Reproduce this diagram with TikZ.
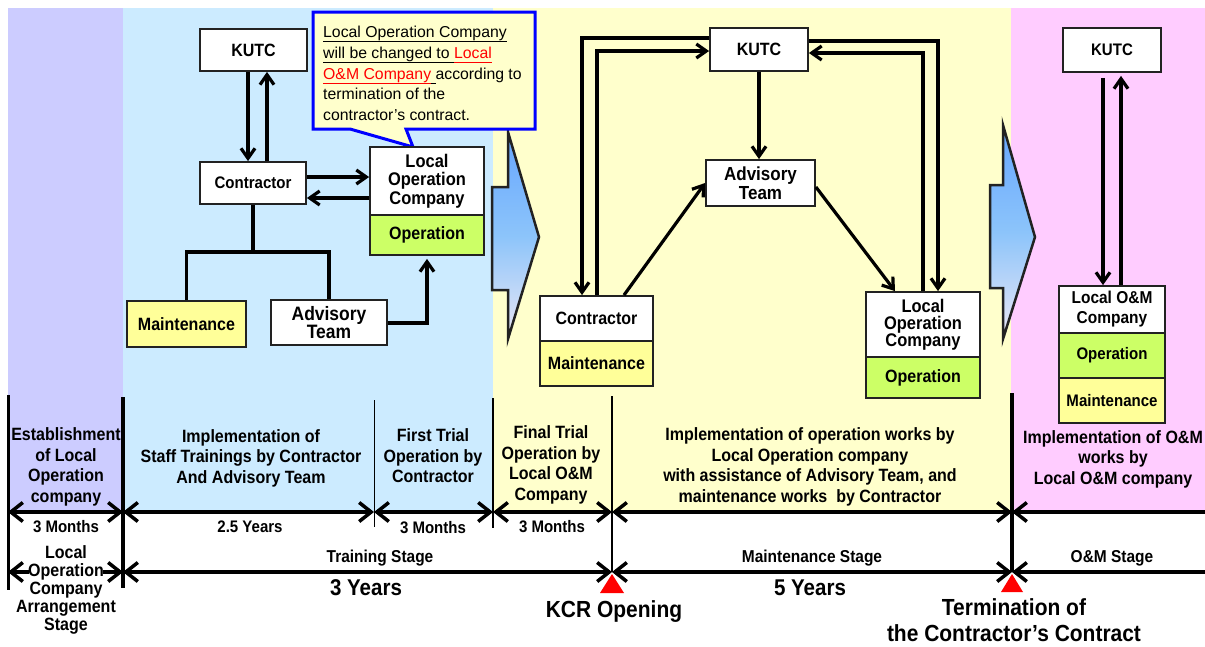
\documentclass[tikz,border=0pt]{standalone}
\usepackage{fontspec}
\setmainfont[FakeStretch=0.9]{Liberation Sans}
\newfontfamily\plainfont{Liberation Sans}
\usetikzlibrary{arrows.meta}
\definecolor{lav}{HTML}{CCCCFF}
\definecolor{lblue}{HTML}{CCEBFF}
\definecolor{lyel}{HTML}{FFFFCC}
\definecolor{lpink}{HTML}{FFCCFF}
\definecolor{bgreen}{HTML}{CCFF66}
\definecolor{byel}{HTML}{FFFF99}
\definecolor{arrA}{HTML}{66A6FF}
\definecolor{arrB}{HTML}{8CC4FA}
\definecolor{arrC}{HTML}{ECE8F6}
\definecolor{bord}{HTML}{222222}
\definecolor{cblue}{HTML}{0000FF}
\newcommand\uln[1]{\underline{#1\vphantom{y}}}
\begin{document}
\begin{tikzpicture}[x=1pt,y=-1pt,
  box/.style={draw=bord, line width=1.8pt, inner sep=0pt, align=center, font=\bfseries\fontsize{17.8}{19}\selectfont},
  wbox/.style={box, fill=white},
  ybox/.style={box, fill=byel},
  gbox/.style={box, fill=bgreen},
  darr/.style={line width=3.2pt, -{Straight Barb[length=10pt,width=14pt]}},
  dline/.style={line width=3.2pt},
  tarr/.style={line width=3.5pt, {Straight Barb[length=12pt,width=19pt]}-{Straight Barb[length=12pt,width=19pt]}},
  larr/.style={line width=3.5pt, {Straight Barb[length=12pt,width=19pt]}-},
  ttext/.style={align=center, font=\bfseries\fontsize{17.8}{20.5}\selectfont, inner sep=0pt},
  dur/.style={font=\bfseries\fontsize{16.7}{18}\selectfont, inner sep=0pt},
  stg/.style={font=\bfseries\fontsize{17.2}{18}\selectfont, inner sep=0pt},
  big/.style={align=center, font=\bfseries\fontsize{23.3}{26}\selectfont, inner sep=0pt},
  ctext/.style={anchor=base west, inner sep=0pt, font=\plainfont\fontsize{15.8}{20}\selectfont},
  bigarrow/.style={draw=bord, line width=2.5pt, top color=arrA, bottom color=arrC, middle color=arrB, line join=miter}
]
\useasboundingbox (0,0) rectangle (1205,646);
% bands
\fill[lav] (8,8) rectangle (123,511);
\fill[lblue] (123,8) rectangle (492.5,511);
\fill[lyel] (492.5,8) rectangle (1011,511);
\fill[lpink] (1011,8) rectangle (1205,511);
% big arrows
\path[bigarrow] (508,132) -- (539,237) -- (508,339) -- (508,290) -- (492,290) -- (492,187) -- (508,187) -- cycle;
\path[bigarrow] (1003,125) -- (1035,237) -- (1003,339) -- (1003,288) -- (990,288) -- (990,185) -- (1003,185) -- cycle;
% callout
\draw[cblue, line width=3pt, fill=lyel, line join=miter] (313,12) -- (535,12) -- (535,129) -- (406,129) -- (413,147) -- (350,129) -- (313,129) -- cycle;
\node[ctext] (ct1) at (323,37) {\uln{Local Operation Company}};
\node[ctext] (ct2) at (323,58) {\uln{will be changed to }\textcolor{red}{\uln{Local}}};
\node[ctext] (ct3) at (323,79) {\textcolor{red}{\uln{O\&M Company}}\uln{\ }according to};
\node[ctext] (ct4) at (323,99) {termination of the};
\node[ctext] (ct5) at (323,120) {contractor’s contract.};
% section 1
\node[wbox, minimum width=107pt, minimum height=42pt] (kutc1) at (253.5,50) {KUTC};
\node[wbox, minimum width=106pt, minimum height=42pt, font=\bfseries\fontsize{16.7}{18}\selectfont] (con1) at (253,183) {Contractor};
\node[wbox, minimum width=114pt, minimum height=68pt, font=\bfseries\fontsize{18.3}{18.5}\selectfont] (loc1) at (427,181) {Local\\Operation\\Company};
\node[gbox, minimum width=114pt, minimum height=40pt] (op1) at (427,235) {Operation};
\node[ybox, minimum width=119pt, minimum height=46pt] (mnt1) at (186.5,324) {Maintenance};
\node[wbox, minimum width=116pt, minimum height=45pt, font=\bfseries\fontsize{19.4}{17}\selectfont] (adv1) at (329,322.5) {Advisory\\Team};
\draw[darr] (kutc1.south -| 248,0) -- (con1.north -| 248,0);
\draw[darr] (con1.north -| 267,0) -- (kutc1.south -| 267,0);
\draw[darr] (con1.east |- 0,177) -- (loc1.west |- 0,177);
\draw[darr] (loc1.west |- 0,198) -- (con1.east |- 0,198);
\coordinate (tj) at (con1.south |- 0,252);
\draw[dline] (con1.south) -- (tj);
\draw[dline] (mnt1.north) |- (tj) -| (adv1.north);
\draw[darr, shorten >=3pt] (adv1.east |- 0,323) -| (op1.south);
% section 2
\node[wbox, minimum width=98pt, minimum height=43pt] (kutc2) at (759,49.5) {KUTC};
\node[wbox, minimum width=109pt, minimum height=46pt, font=\bfseries\fontsize{18.9}{19}\selectfont] (adv2) at (760.5,183) {Advisory\\Team};
\node[wbox, minimum width=113pt, minimum height=45pt] (con2) at (596.5,318.5) {Contractor};
\node[ybox, minimum width=113pt, minimum height=45pt] (mnt2) at (596.5,363.5) {Maintenance};
\node[wbox, minimum width=114pt, minimum height=65pt, font=\bfseries\fontsize{18.3}{17}\selectfont] (loc2) at (923,324.5) {Local\\Operation\\Company};
\node[gbox, minimum width=114pt, minimum height=41pt] (op2) at (923,377.5) {Operation};
\draw[darr] (kutc2.west |- 0,38) -| (con2.north -| 582,0);
\draw[darr] (con2.north -| 597,0) |- (kutc2.west |- 0,51);
\draw[darr] (kutc2.east |- 0,41) -| (loc2.north -| 938,0);
\draw[darr] (loc2.north -| 923,0) |- (kutc2.east |- 0,53);
\draw[darr] (kutc2.south) -- (kutc2.south |- adv2.north);
\draw[darr] (con2.north -| 624,0) -- (adv2.west |- 0,183);
\draw[darr] (adv2.east |- 0,187) -- (loc2.north -| 895,0);
% section 3
\node[wbox, minimum width=98pt, minimum height=44pt, font=\bfseries\fontsize{16.7}{18}\selectfont] (kutc3) at (1112,50) {KUTC};
\node[wbox, minimum width=106pt, minimum height=47pt, font=\bfseries\fontsize{17.2}{20}\selectfont] (lom) at (1112,309.5) {Local O\&M\\Company};
\node[gbox, minimum width=106pt, minimum height=45pt, font=\bfseries\fontsize{16.7}{18}\selectfont] (op3) at (1112,355.5) {Operation};
\node[ybox, minimum width=106pt, minimum height=45pt, font=\bfseries\fontsize{16.7}{18}\selectfont] (mnt3) at (1112,400.5) {Maintenance};
\draw[darr, shorten <=5pt] (kutc3.south -| 1103,0) -- (lom.north -| 1103,0);
\draw[darr, shorten >=3pt] (lom.north -| 1121,0) -- (kutc3.south -| 1121,0);
% timeline ticks
\draw[line width=3pt] (8,395) -- (8,590);
\draw[line width=3.5pt] (123,397) -- (123,588);
\draw[line width=1pt] (374,400) -- (374,527);
\draw[line width=2pt] (493,398) -- (493,528);
\draw[line width=1.5pt] (612,396) -- (612,572);
\draw[line width=3.5pt] (1012,393) -- (1012,572);
\coordinate (a0) at (8,512); \coordinate (a1) at (123,512); \coordinate (a2) at (374,512);
\coordinate (a3) at (493,512); \coordinate (a4) at (612,512); \coordinate (a5) at (1012,512);
\coordinate (a6) at (1205,512);
\coordinate (b0) at (8,572); \coordinate (b1) at (123,572); \coordinate (b4) at (612,572);
\coordinate (b5) at (1012,572); \coordinate (b6) at (1205,572);
\draw[tarr] (a0) -- (a1);
\draw[tarr] (a1) -- (a2);
\draw[tarr] (a2) -- (a3);
\draw[tarr] (a3) -- (a4);
\draw[tarr] (a4) -- (a5);
\draw[larr] (a5) -- (a6);
\draw[tarr] (b0) -- (b1);
\draw[tarr] (b1) -- (b4);
\draw[tarr] (b4) -- (b5);
\draw[larr] (b5) -- (b6);
\fill[red] (612,574) -- (624,593) -- (600,593) -- cycle;
\fill[red] (1012,574) -- (1023,592) -- (1001,592) -- cycle;
% timeline texts
\node[ttext] (est) at (66,467) {Establishment\\of Local\\Operation\\company};
\node[ttext] (impl) at (251,458) {Implementation of\\Staff Trainings by Contractor\\And Advisory Team};
\node[ttext] (first) at (433,456) {First Trial\\Operation by\\Contractor};
\node[ttext] (final) at (551,465) {Final Trial\\Operation by\\Local O\&M\\Company};
\node[ttext] (opw) at (810,467) {Implementation of operation works by\\Local Operation company\\with assistance of Advisory Team, and\\maintenance works\ \ by Contractor};
\node[ttext] (omw) at (1113,459) {Implementation of O\&M\\works by\\Local O\&M company};
\node[dur] (d1) at (66,527) {3 Months};
\node[dur] (d2) at (250,527) {2.5 Years};
\node[dur] (d3) at (433,528) {3 Months};
\node[dur] (d4) at (552,527) {3 Months};
\node[stg] (s1) at (380,558) {Training Stage};
\node[stg] (s2) at (812,558) {Maintenance Stage};
\node[stg] (s3) at (1112,558) {O\&M Stage};
\fill[white] (29,565) rectangle (103,580);
\node[ttext, font=\bfseries\fontsize{17.8}{17.8}\selectfont] (arr) at (66,590) {Local\\Operation\\Company\\Arrangement\\Stage};
\node[big, font=\bfseries\fontsize{22.8}{24}\selectfont] (y3) at (366,588) {3 Years};
\node[big, font=\bfseries\fontsize{22.8}{24}\selectfont] (y5) at (810,588) {5 Years};
\node[big] (kcr) at (614,612) {KCR Opening};
\node[big] (term) at (1014,620) {Termination of\\the Contractor’s Contract};
\end{tikzpicture}
\end{document}
